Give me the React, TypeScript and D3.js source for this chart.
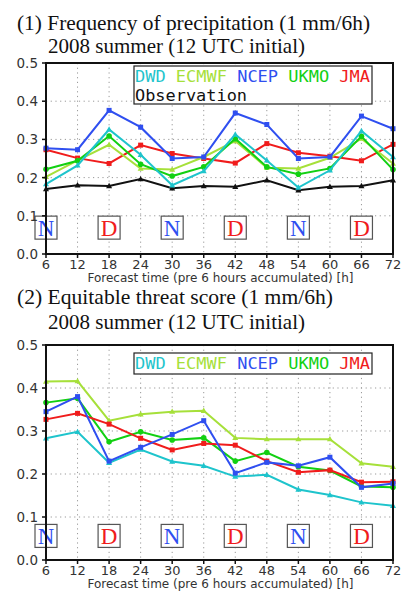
import * as d3 from "d3";

// forecast hours (6h accumulation ending at)
const hours = [6, 12, 18, 24, 30, 36, 42, 48, 54, 60, 66, 72];
const yTicks = [0, 0.1, 0.2, 0.3, 0.4, 0.5];

const models = ["DWD", "ECMWF", "NCEP", "UKMO", "JMA"];
const colors: Record<string, string> = {
  DWD: "#1ec4cc",
  ECMWF: "#a6e03a",
  NCEP: "#2f4ff0",
  UKMO: "#12d012",
  JMA: "#f01c1c",
  Observation: "#111111",
};
const markers: Record<string, string> = {
  DWD: "tri",
  ECMWF: "tri",
  NCEP: "sq",
  UKMO: "circ",
  JMA: "sq",
  Observation: "tri",
};

// (1) frequency of precipitation
const freqDWD = [0.183, 0.232, 0.326, 0.26, 0.18, 0.217, 0.313, 0.245, 0.174, 0.219, 0.322, 0.254];
const freqECMWF = [0.202, 0.245, 0.286, 0.224, 0.221, 0.254, 0.296, 0.226, 0.224, 0.252, 0.302, 0.237];
const freqNCEP = [0.277, 0.273, 0.376, 0.332, 0.25, 0.254, 0.369, 0.339, 0.25, 0.254, 0.361, 0.328];
const freqUKMO = [0.222, 0.244, 0.309, 0.235, 0.204, 0.228, 0.302, 0.228, 0.209, 0.224, 0.308, 0.221];
const freqJMA = [0.273, 0.251, 0.237, 0.285, 0.263, 0.25, 0.238, 0.289, 0.265, 0.256, 0.244, 0.287];
const freqObs = [0.17, 0.18, 0.178, 0.196, 0.172, 0.178, 0.176, 0.193, 0.167, 0.176, 0.178, 0.193];

// (2) equitable threat score
const etsDWD = [0.283, 0.298, 0.226, 0.257, 0.229, 0.219, 0.194, 0.198, 0.164, 0.151, 0.134, 0.126];
const etsECMWF = [0.415, 0.416, 0.324, 0.339, 0.345, 0.347, 0.284, 0.281, 0.281, 0.281, 0.225, 0.217];
const etsNCEP = [0.345, 0.38, 0.23, 0.262, 0.292, 0.324, 0.202, 0.227, 0.219, 0.239, 0.169, 0.178];
const etsUKMO = [0.366, 0.376, 0.275, 0.298, 0.279, 0.284, 0.23, 0.25, 0.217, 0.208, 0.171, 0.169];
const etsJMA = [0.327, 0.341, 0.316, 0.283, 0.256, 0.271, 0.267, 0.23, 0.204, 0.209, 0.181, 0.182];

// night / day markers
const dnHours = [6, 18, 30, 42, 54, 66];
const dnLabels = ["N", "D", "N", "D", "N", "D"];

const W = 410, H = 597;
const xLeft = 46, xRight = 393;

type Series = { name: string; values: number[] };

function Marker({ kind, x, y, color }: { kind: string; x: number; y: number; color: string }) {
  if (kind === "sq") return <rect x={x - 2.5} y={y - 2.5} width={5} height={5} fill={color} />;
  if (kind === "circ") return <circle cx={x} cy={y} r={2.8} fill={color} />;
  return <path d={`M${x},${y - 3.2}L${x + 3},${y + 2.2}L${x - 3},${y + 2.2}Z`} fill={color} />;
}

function Panel({ top, bottom, series, dnValue, showObs, legOffset }: {
  top: number; bottom: number; series: Series[]; dnValue: number; showObs: boolean; legOffset: number;
}) {
  const x = d3.scaleLinear().domain([6, 72]).range([xLeft, xRight]);
  const y = d3.scaleLinear().domain([0, 0.5]).range([bottom, top]);
  const line = d3.line<number>().x((_, i) => x(hours[i])).y((d) => y(d));
  const legTop = top + legOffset;
  const legH = showObs ? 38 : 21;
  return (
    <g>
      {/* grid */}
      {hours.slice(1, -1).map((h) => (
        <line key={"gx" + h} x1={x(h)} x2={x(h)} y1={top} y2={bottom} stroke="#999" strokeDasharray="1.2,3.5" />
      ))}
      {yTicks.slice(1, -1).map((t) => (
        <line key={"gy" + t} x1={xLeft} x2={xRight} y1={y(t)} y2={y(t)} stroke="#999" strokeDasharray="1.2,3.5" />
      ))}
      {/* series */}
      {series.map((s) => (
        <g key={s.name}>
          <path d={line(s.values) || ""} fill="none" stroke={colors[s.name]} strokeWidth={2} />
          {s.values.map((v, i) => (
            <Marker key={i} kind={markers[s.name]} x={x(hours[i])} y={y(v)} color={colors[s.name]} />
          ))}
        </g>
      ))}
      {/* day/night boxes */}
      {dnHours.map((h, i) => (
        <g key={"dn" + h}>
          <rect x={x(h) - 11} y={y(dnValue) - 11.5} width={22} height={23} fill="white" stroke="#555" strokeWidth={1.2} />
          <text x={x(h)} y={y(dnValue) + 8} textAnchor="middle" fontFamily="Liberation Serif" fontSize={23}
            fill={dnLabels[i] === "N" ? "#2f4ff0" : "#f01c1c"}>{dnLabels[i]}</text>
        </g>
      ))}
      {/* legend */}
      <rect x={134} y={legTop} width={238} height={legH} fill="white" stroke="#222" strokeWidth={1.2} />
      <text x={135} y={legTop + 16} fontFamily="DejaVu Sans Mono" fontSize={16} textLength={235} lengthAdjust="spacingAndGlyphs">
        {models.map((m, i) => (
          <tspan key={m} fill={colors[m]}>{(i > 0 ? " " : "") + m}</tspan>
        ))}
      </text>
      {showObs && (
        <text x={135} y={legTop + 35} fontFamily="DejaVu Sans Mono" fontSize={16} fill="#111" textLength={112} lengthAdjust="spacingAndGlyphs">Observation</text>
      )}
      {/* frame */}
      <rect x={xLeft} y={top} width={xRight - xLeft} height={bottom - top} fill="none" stroke="#111" strokeWidth={2} />
      {/* ticks */}
      {yTicks.map((t) => (
        <g key={"yt" + t}>
          <line x1={xLeft - 4} x2={xLeft} y1={y(t)} y2={y(t)} stroke="#111" strokeWidth={1.5} />
          <text x={xLeft - 8} y={y(t) + 5} textAnchor="end" fontFamily="DejaVu Sans" fontSize={13.5} fill="#333">{t.toFixed(1)}</text>
        </g>
      ))}
      {hours.map((h) => (
        <g key={"xt" + h}>
          <line x1={x(h)} x2={x(h)} y1={bottom} y2={bottom + 4} stroke="#111" strokeWidth={1.5} />
          <text x={x(h)} y={bottom + 15} textAnchor="middle" fontFamily="DejaVu Sans" fontSize={13} fill="#333">{h}</text>
        </g>
      ))}
      <text x={(xLeft + xRight) / 2 + 1} y={bottom + 28} textAnchor="middle" fontFamily="DejaVu Sans" fontSize={12} fill="#333">
        Forecast time (pre 6 hours accumulated) [h]
      </text>
    </g>
  );
}

export default function App() {
  const freq: Series[] = [
    { name: "Observation", values: freqObs },
    { name: "JMA", values: freqJMA },
    { name: "ECMWF", values: freqECMWF },
    { name: "UKMO", values: freqUKMO },
    { name: "DWD", values: freqDWD },
    { name: "NCEP", values: freqNCEP },
  ];
  const ets: Series[] = [
    { name: "DWD", values: etsDWD },
    { name: "ECMWF", values: etsECMWF },
    { name: "UKMO", values: etsUKMO },
    { name: "JMA", values: etsJMA },
    { name: "NCEP", values: etsNCEP },
  ];
  return (
    <svg width={W} height={H} style={{ position: "absolute", left: 0, top: 0, background: "white" }}>
      <text x={17} y={30} fontFamily="Liberation Serif" fontSize={21} fill="#111" textLength={353} lengthAdjust="spacingAndGlyphs">(1) Frequency of precipitation (1 mm/6h)</text>
      <text x={48} y={53} fontFamily="Liberation Serif" fontSize={21} fill="#111" textLength={257} lengthAdjust="spacingAndGlyphs">2008 summer (12 UTC initial)</text>
      <Panel top={63} bottom={254} series={freq} dnValue={0.069} showObs={true} legOffset={3} />
      <text x={17} y={304} fontFamily="Liberation Serif" fontSize={21} fill="#111" textLength={316} lengthAdjust="spacingAndGlyphs">(2) Equitable threat score (1 mm/6h)</text>
      <text x={48} y={329} fontFamily="Liberation Serif" fontSize={21} fill="#111" textLength={257} lengthAdjust="spacingAndGlyphs">2008 summer (12 UTC initial)</text>
      <Panel top={345} bottom={560} series={ets} dnValue={0.056} showObs={false} legOffset={8} />
    </svg>
  );
}
